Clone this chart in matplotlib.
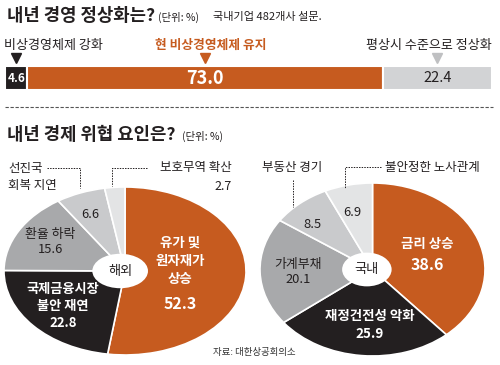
import matplotlib
matplotlib.use("Agg")
import matplotlib.pyplot as plt
from matplotlib.patches import Ellipse
import numpy as np

plt.rcParams["font.family"] = ["Noto Sans CJK KR", "DejaVu Sans"]

# --- data ---
outlook_labels = ["비상경영체제 강화", "현 비상경영체제 유지", "평상시 수준으로 정상화"]
outlook_values = [4.6, 73.0, 22.4]

overseas_labels = ["유가 및\n원자재가\n상승", "국제금융시장\n불안 재연", "환율 하락", "선진국\n회복 지연", "보호무역 확산"]
overseas_values = [52.3, 22.8, 15.6, 6.6, 2.7]

domestic_labels = ["금리 상승", "재정건전성 악화", "가계부채", "부동산 경기", "불안정한 노사관계"]
domestic_values = [38.6, 25.9, 20.1, 8.5, 6.9]

ORANGE = "#C65B1F"
DARK = "#231F20"
GRAY1 = "#A8A9AB"
GRAY2 = "#C9CACC"
GRAY3 = "#E3E4E5"
BARGRAY = "#D2D3D5"
PIE_COLORS = [ORANGE, DARK, GRAY1, GRAY2, GRAY3]

W, H = 500, 365
fig = plt.figure(figsize=(W / 100, H / 100), dpi=100)
fig.patch.set_facecolor("white")


def px_axes(x0, y0, x1, y1):
    # axes placed by pixel box (top-left origin)
    return fig.add_axes([x0 / W, 1 - y1 / H, (x1 - x0) / W, (y1 - y0) / H])


# --- top stacked bar ---
bax = px_axes(5, 66, 492, 90)
lefts = np.concatenate([[0], np.cumsum(outlook_values)[:-1]])
bar_colors = [DARK, ORANGE, BARGRAY]
bax.barh(0, outlook_values, left=lefts, height=1.0, color=bar_colors,
         edgecolor="white", linewidth=1.5)
bax.set_xlim(0, sum(outlook_values))
bax.set_ylim(-0.5, 0.5)
bax.axis("off")
val_styles = [("white", 8.5, "bold"), ("white", 13, "bold"), (DARK, 10.5, "normal")]
for l, v, (c, s, w) in zip(lefts, outlook_values, val_styles):
    bax.text(l + v / 2, 0, f"{v:.1f}", ha="center", va="center", color=c,
             fontsize=s, fontweight=w)


# --- pies ---
def draw_pie(box, values, hole_dx, hole_w, hole_h, name):
    ax = px_axes(*box)
    ax.pie(values, colors=PIE_COLORS, startangle=90, counterclock=False,
           wedgeprops=dict(edgecolor="white", linewidth=1.2))
    ax.set_aspect("auto")
    ax.set_xlim(-1, 1)
    ax.set_ylim(-1, 1)
    ax.add_patch(Ellipse((hole_dx, 0), hole_w, hole_h, facecolor="white",
                         edgecolor="none", zorder=5))
    ax.text(hole_dx, 0, name, ha="center", va="center", fontsize=9.5,
            color=DARK, zorder=6)
    return ax


draw_pie((4, 187, 246, 355), overseas_values, -0.04, 0.46, 0.41, "해외")
draw_pie((260, 183, 485, 356), domestic_values, -0.05, 0.44, 0.39, "국내")

# --- overlay for texts and leader lines (pixel coords) ---
ov = fig.add_axes([0, 0, 1, 1], facecolor="none")
ov.set_xlim(0, W)
ov.set_ylim(H, 0)
ov.axis("off")


def txt(x, y, s, size=8.5, ha="left", color=DARK, weight="normal", ls=1.2):
    ov.text(x, y, s, fontsize=size, ha=ha, va="center", color=color,
            fontweight=weight, linespacing=ls)


# titles
txt(7, 16, "내년 경영 정상화는?", size=12.8, weight="bold")
txt(158, 17, "(단위: %)", size=7.5)
txt(213, 17, "국내기업 482개사 설문.", size=8)
txt(7, 135, "내년 경제 위협 요인은?", size=12.8, weight="bold")
txt(182, 136, "(단위: %)", size=7.5)

# bar labels and markers
bar_left, bar_w = 5, 487
centers = bar_left + (lefts + np.array(outlook_values) / 2) / sum(outlook_values) * bar_w
txt(4, 45, outlook_labels[0], size=9.4)
txt(centers[1] + 6, 45, outlook_labels[1], size=9.2, ha="center", color=ORANGE,
    weight="bold")
txt(492, 45, outlook_labels[2], size=9.4, ha="right")
for cx, c in zip(centers, [DARK, ORANGE, "#BFC0C2"]):
    ov.plot([cx], [58], marker="v", markersize=6.5, color=c, linestyle="none")

# dashed separator
ov.plot([5, 493], [107, 107], color="#555555", linewidth=0.8,
        linestyle=(0, (3, 1.5)))

# overseas pie labels
txt(8, 177, overseas_labels[3], size=9, ls=1.35)
txt(232, 168, overseas_labels[4], size=9, ha="right")
txt(232, 187, f"{overseas_values[4]}", size=9, ha="right")
txt(90, 215, f"{overseas_values[3]}", size=9.3, ha="center")
txt(50, 242, f"{overseas_labels[2]}\n{overseas_values[2]}", size=9.3, ha="center")
txt(63, 306, f"{overseas_labels[1]}\n{overseas_values[1]}", size=9.5,
    ha="center", color="white", weight="bold", ls=1.3)
txt(180, 261, overseas_labels[0], size=9.7, ha="center", color="white",
    weight="bold", ls=1.4)
txt(180, 304, f"{overseas_values[0]}", size=11.5, ha="center", color="white",
    weight="bold")

# domestic pie labels
txt(262, 168, domestic_labels[3], size=9)
txt(385, 168, domestic_labels[4], size=9)
txt(352, 212, f"{domestic_values[4]}", size=9.3, ha="center")
txt(312, 225, f"{domestic_values[3]}", size=9.3, ha="center")
txt(298, 272, f"{domestic_labels[2]}\n{domestic_values[2]}", size=9.3, ha="center")
txt(370, 325, f"{domestic_labels[1]}\n{domestic_values[1]}", size=9.7,
    ha="center", color="white", weight="bold", ls=1.3)
txt(427, 244, domestic_labels[0], size=9.7, ha="center", color="white",
    weight="bold")
txt(427, 265, f"{domestic_values[0]}", size=11.5, ha="center", color="white",
    weight="bold")

# leader lines
lead = dict(color=DARK, linewidth=0.7, linestyle=(0, (1.5, 1.2)))
ov.plot([47, 80, 80], [168, 168, 188], **lead)
ov.plot([147, 112, 112], [168, 168, 186], **lead)
ov.plot([293, 293], [180, 207], **lead)
ov.plot([381, 345, 345], [167, 167, 188], **lead)

# source
txt(213, 352, "자료: 대한상공회의소", size=6.8, color="#333333")

fig.savefig("out.png", dpi=100, facecolor="white")
